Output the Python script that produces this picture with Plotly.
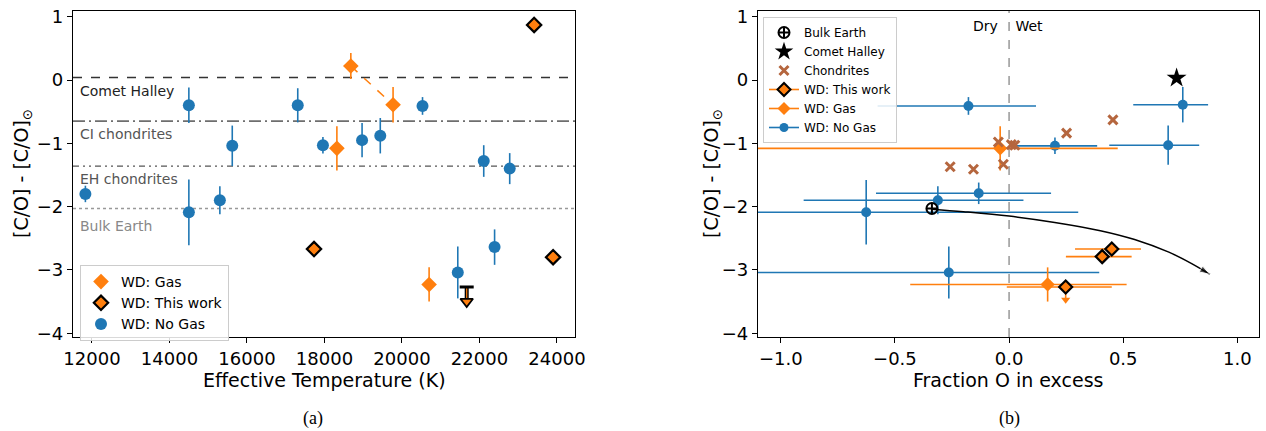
import plotly.graph_objects as go

# ---------------- Panel (a): C/O vs effective temperature ----------------
nogas_teff = [11830, 14500, 14500, 15300, 15620, 17310, 17960, 18970, 19440, 20530, 21440, 22110, 22390, 22780]
nogas_co = [-1.80, -0.40, -2.09, -1.90, -1.04, -0.40, -1.03, -0.95, -0.88, -0.41, -3.04, -1.28, -2.64, -1.40]
nogas_err = [0.13, 0.28, 0.52, 0.22, 0.32, 0.27, 0.13, 0.27, 0.28, 0.14, 0.41, 0.25, 0.28, 0.245]

gas_teff = [18680, 19770, 18320, 20700]
gas_co = [0.22, -0.39, -1.08, -3.23]
gas_err = [0.205, 0.28, 0.35, 0.27]
gas_pair = [0, 1]  # two measurements of the same star, joined by a dashed line

this_teff = [23410, 17730, 23900]
this_co = [0.87, -2.67, -2.80]

limit_teff = [21670]
limit_co = [-3.27]
limit_arrow = 0.23

ref_names = ["Comet Halley", "CI chondrites", "EH chondrites", "Bulk Earth"]
ref_values = [0.04, -0.65, -1.36, -2.03]

# ---------------- Panel (b): C/O vs fraction O in excess ----------------
bulk_earth_fo = [-0.338]
bulk_earth_co = [-2.03]
halley_fo = [0.734]
halley_co = [0.03]
chond_fo = [-0.258, -0.156, -0.025, -0.047, 0.010, 0.025, 0.252, 0.455]
chond_co = [-1.37, -1.41, -1.33, -0.98, -1.02, -1.03, -0.84, -0.63]

nogas_fo = [-0.178, 0.201, 0.697, 0.761, -0.626, -0.312, -0.133, -0.264]
nogas_co_b = [-0.41, -1.04, -1.03, -0.39, -2.09, -1.90, -1.79, -3.04]
nogas_fo_lo = [0.398, 0.189, 0.258, 0.217, 0.62, 0.588, 0.45, 0.90]
nogas_fo_hi = [0.296, 0.185, 0.136, 0.111, 0.929, 0.375, 0.317, 0.659]
nogas_co_err_b = [0.14, 0.13, 0.31, 0.28, 0.51, 0.22, 0.17, 0.41]

gas_fo = [-0.039, 0.169]
gas_co_b = [-1.08, -3.23]
gas_fo_lo = [1.20, 0.602]
gas_fo_hi = [0.515, 0.346]
gas_co_err_b = [0.35, 0.27]

this_fo = [0.248, 0.408, 0.450]
this_co_b = [-3.27, -2.79, -2.67]
this_fo_lo = [0.258, 0.159, 0.161]
this_fo_hi = [0.202, 0.129, 0.128]
this_limit_idx = [0]
this_limit_arrow = 0.2

mix_fo = [-0.338, -0.20, 0.0, 0.20, 0.40, 0.55, 0.70, 0.80, 0.88]
mix_co = [-2.04, -2.08, -2.15, -2.25, -2.38, -2.52, -2.72, -2.90, -3.07]

BLUE = "#1f77b4"
ORANGE = "#ff7f0e"
CHOND = "#b5663e"

fig = go.Figure()

# ----- panel (a) traces -----
fig.add_trace(go.Scatter(
    x=nogas_teff, y=nogas_co, mode="markers", name="WD: No Gas",
    marker=dict(color=BLUE, size=12, symbol="circle"),
    error_y=dict(type="data", array=nogas_err, color=BLUE, thickness=1.6, width=0),
    xaxis="x", yaxis="y", legend="legend", legendrank=3))
fig.add_trace(go.Scatter(
    x=[gas_teff[i] for i in gas_pair], y=[gas_co[i] for i in gas_pair], mode="lines",
    line=dict(color=ORANGE, width=1.5, dash="dash"), showlegend=False,
    xaxis="x", yaxis="y"))
fig.add_trace(go.Scatter(
    x=gas_teff, y=gas_co, mode="markers", name="WD: Gas",
    marker=dict(color=ORANGE, size=12, symbol="diamond"),
    error_y=dict(type="data", array=gas_err, color=ORANGE, thickness=1.6, width=0),
    xaxis="x", yaxis="y", legend="legend", legendrank=1))
fig.add_trace(go.Scatter(
    x=this_teff, y=this_co, mode="markers", name="WD: This work",
    marker=dict(color=ORANGE, size=11, symbol="diamond", line=dict(color="black", width=2.2)),
    xaxis="x", yaxis="y", legend="legend", legendrank=2))
# upper limit
lim_x = [t for t in limit_teff for _ in (0, 1)]
lim_y = [v - d for v in limit_co for d in (0, limit_arrow)]
fig.add_trace(go.Scatter(x=lim_x, y=lim_y, mode="lines", line=dict(color="black", width=4),
                         showlegend=False, xaxis="x", yaxis="y"))
fig.add_trace(go.Scatter(x=lim_x, y=lim_y, mode="lines", line=dict(color=ORANGE, width=1.2),
                         showlegend=False, xaxis="x", yaxis="y"))
fig.add_trace(go.Scatter(x=limit_teff, y=limit_co, mode="markers",
                         marker=dict(symbol="line-ew", size=10, line=dict(color="black", width=3)),
                         showlegend=False, xaxis="x", yaxis="y"))
fig.add_trace(go.Scatter(x=limit_teff, y=[v - limit_arrow for v in limit_co], mode="markers",
                         marker=dict(symbol="triangle-down", size=11, color=ORANGE,
                                     line=dict(color="black", width=1.8)),
                         showlegend=False, xaxis="x", yaxis="y"))

ref_styles = [
    dict(color="#333333", dash="dash", width=1.4),
    dict(color="#6e6e6e", dash="12px,4px,2px,4px", width=1.6),
    dict(color="#555555", dash="6px,4px,2px,4px,2px,4px", width=1.2),
    dict(color="#999999", dash="dot", width=1.5),
]
ref_text_colors = ["#222222", "#555555", "#555555", "#888888"]
ref_text_offset = [-0.21, -0.21, -0.21, -0.27]
for name, val, st, tc, off in zip(ref_names, ref_values, ref_styles, ref_text_colors, ref_text_offset):
    fig.add_shape(type="line", xref="x domain", yref="y", x0=0, x1=1, y0=val, y1=val,
                  line=st, layer="below")
    fig.add_annotation(xref="x domain", yref="y", x=0.01, y=val + off, text=name,
                       showarrow=False, xanchor="left", yanchor="middle",
                       font=dict(size=14, color=tc))

# ----- panel (b) traces -----
fig.add_shape(type="line", xref="x2", yref="y2 domain", x0=0, x1=0, y0=0, y1=1,
              line=dict(color="#888888", dash="dash", width=1.3), layer="below")
fig.add_annotation(xref="x2", yref="y2 domain", x=0, y=0.955, text="Dry  ", showarrow=False,
                   xanchor="right", yanchor="middle", font=dict(size=14, color="black"))
fig.add_annotation(xref="x2", yref="y2 domain", x=0, y=0.955, text=" Wet", showarrow=False,
                   xanchor="left", yanchor="middle", font=dict(size=14, color="black"))

fig.add_trace(go.Scatter(
    x=nogas_fo, y=nogas_co_b, mode="markers", showlegend=False,
    marker=dict(color=BLUE, size=10),
    error_x=dict(type="data", symmetric=False, array=nogas_fo_hi, arrayminus=nogas_fo_lo,
                 color=BLUE, thickness=1.6, width=0),
    error_y=dict(type="data", array=nogas_co_err_b, color=BLUE, thickness=1.6, width=0),
    xaxis="x2", yaxis="y2"))
fig.add_trace(go.Scatter(
    x=gas_fo, y=gas_co_b, mode="markers", showlegend=False,
    marker=dict(color=ORANGE, size=11, symbol="diamond"),
    error_x=dict(type="data", symmetric=False, array=gas_fo_hi, arrayminus=gas_fo_lo,
                 color=ORANGE, thickness=1.6, width=0),
    error_y=dict(type="data", array=gas_co_err_b, color=ORANGE, thickness=1.6, width=0),
    xaxis="x2", yaxis="y2"))
fig.add_trace(go.Scatter(
    x=chond_fo, y=chond_co, mode="markers", showlegend=False,
    marker=dict(symbol="x-thin", size=9, line=dict(color=CHOND, width=3)),
    xaxis="x2", yaxis="y2"))
fig.add_trace(go.Scatter(
    x=mix_fo, y=mix_co, mode="lines+markers", line=dict(color="black", width=1.5, shape="spline"),
    marker=dict(symbol="arrow", angleref="previous", color="black",
                size=[0] * (len(mix_fo) - 1) + [11]),
    showlegend=False, xaxis="x2", yaxis="y2"))
# upper-limit arrow of the first "this work" point
tl_x = [this_fo[i] for i in this_limit_idx for _ in (0, 1)]
tl_y = [this_co_b[i] - d for i in this_limit_idx for d in (0, this_limit_arrow)]
fig.add_trace(go.Scatter(x=tl_x, y=tl_y, mode="lines", line=dict(color=ORANGE, width=1.6),
                         showlegend=False, xaxis="x2", yaxis="y2"))
fig.add_trace(go.Scatter(x=[this_fo[i] for i in this_limit_idx],
                         y=[this_co_b[i] - this_limit_arrow for i in this_limit_idx],
                         mode="markers", marker=dict(symbol="triangle-down", size=8, color=ORANGE),
                         showlegend=False, xaxis="x2", yaxis="y2"))
fig.add_trace(go.Scatter(
    x=this_fo, y=this_co_b, mode="markers", showlegend=False,
    marker=dict(color=ORANGE, size=10, symbol="diamond", line=dict(color="black", width=2.2)),
    error_x=dict(type="data", symmetric=False, array=this_fo_hi, arrayminus=this_fo_lo,
                 color=ORANGE, thickness=1.6, width=0),
    xaxis="x2", yaxis="y2"))
fig.add_trace(go.Scatter(
    x=bulk_earth_fo, y=bulk_earth_co, mode="markers", showlegend=False,
    marker=dict(symbol="circle-cross-open", size=11, color="black", line=dict(color="black", width=2)),
    xaxis="x2", yaxis="y2"))
fig.add_trace(go.Scatter(
    x=halley_fo, y=halley_co, mode="markers", showlegend=False,
    marker=dict(symbol="star", size=15, color="black"),
    xaxis="x2", yaxis="y2"))

# legend-only entries for panel (b)
leg2 = [
    ("Bulk Earth", "markers", dict(symbol="circle-cross-open", size=11, color="black", line=dict(color="black", width=2)), None),
    ("Comet Halley", "markers", dict(symbol="star", size=14, color="black"), None),
    ("Chondrites", "markers", dict(symbol="x-thin", size=9, line=dict(color=CHOND, width=3)), None),
    ("WD: This work", "lines+markers", dict(symbol="diamond", size=10, color=ORANGE, line=dict(color="black", width=2)), dict(color=ORANGE, width=1.6)),
    ("WD: Gas", "lines+markers", dict(symbol="diamond", size=10, color=ORANGE), dict(color=ORANGE, width=1.6)),
    ("WD: No Gas", "lines+markers", dict(symbol="circle", size=9, color=BLUE), dict(color=BLUE, width=1.6)),
]
for i, (nm, md, mk, ln) in enumerate(leg2):
    kw = dict(x=[None], y=[None], mode=md, name=nm, marker=mk, xaxis="x2", yaxis="y2",
              legend="legend2", legendrank=i + 1)
    if ln:
        kw["line"] = ln
    fig.add_trace(go.Scatter(**kw))

W, H = 1266, 431
ytop, ybot = 11, 337
ydom = [1 - ybot / H, 1 - ytop / H]
axis_common = dict(showline=True, mirror=True, linecolor="black", linewidth=1.2,
                   ticks="outside", ticklen=5, tickwidth=1.2, tickcolor="black",
                   showgrid=False, zeroline=False, automargin=False,
                   tickfont=dict(size=18, color="black"))

fig.update_layout(
    width=W, height=H, margin=dict(l=0, r=0, t=0, b=0),
    paper_bgcolor="white", plot_bgcolor="white",
    font=dict(family="DejaVu Sans", color="black"),
    xaxis=dict(domain=[73 / W, 575 / W], range=[11510, 24465], dtick=2000, tick0=0,
               tickformat="d", anchor="y", **axis_common),
    yaxis=dict(domain=ydom, range=[-4.06, 1.09], dtick=1, anchor="x", **axis_common),
    xaxis2=dict(domain=[758 / W, 1259 / W], range=[-1.10, 1.095], dtick=0.5, tick0=0,
                tickformat=".1f", anchor="y2", **axis_common),
    yaxis2=dict(domain=ydom, range=[-4.06, 1.09], dtick=1, anchor="x2", **axis_common),
    legend=dict(x=80 / W, y=1 - 265 / H, xanchor="left", yanchor="top",
                bgcolor="rgba(255,255,255,0.85)", bordercolor="#cccccc", borderwidth=1,
                font=dict(size=14, color="black"), tracegroupgap=0, itemsizing="trace"),
    legend2=dict(x=763 / W, y=1 - 17 / H, xanchor="left", yanchor="top",
                 bgcolor="rgba(255,255,255,0.85)", bordercolor="#cccccc", borderwidth=1,
                 font=dict(size=12, color="black"), tracegroupgap=0, itemsizing="trace"),
    showlegend=True,
)

# axis titles and captions
fig.add_annotation(xref="paper", yref="paper", x=324 / W, y=1 - 380 / H, text="Effective Temperature (K)",
                   showarrow=False, font=dict(size=19), xanchor="center", yanchor="middle")
fig.add_annotation(xref="paper", yref="paper", x=1008 / W, y=1 - 380 / H, text="Fraction O in excess",
                   showarrow=False, font=dict(size=19), xanchor="center", yanchor="middle")
for xp in (22, 712):
    fig.add_annotation(xref="paper", yref="paper", x=xp / W, y=1 - 174 / H,
                       text="[C/O] - [C/O]<sub>⊙</sub>", textangle=-90,
                       showarrow=False, font=dict(size=19), xanchor="center", yanchor="middle")
fig.add_annotation(xref="paper", yref="paper", x=313 / W, y=1 - 418 / H, text="(a)",
                   showarrow=False, font=dict(size=18, family="Liberation Serif"),
                   xanchor="center", yanchor="middle")
fig.add_annotation(xref="paper", yref="paper", x=1009 / W, y=1 - 418 / H, text="(b)",
                   showarrow=False, font=dict(size=18, family="Liberation Serif"),
                   xanchor="center", yanchor="middle")

fig.write_html("out.html", config={"displayModeBar": False},
               post_script="document.body.style.margin='0px';")
